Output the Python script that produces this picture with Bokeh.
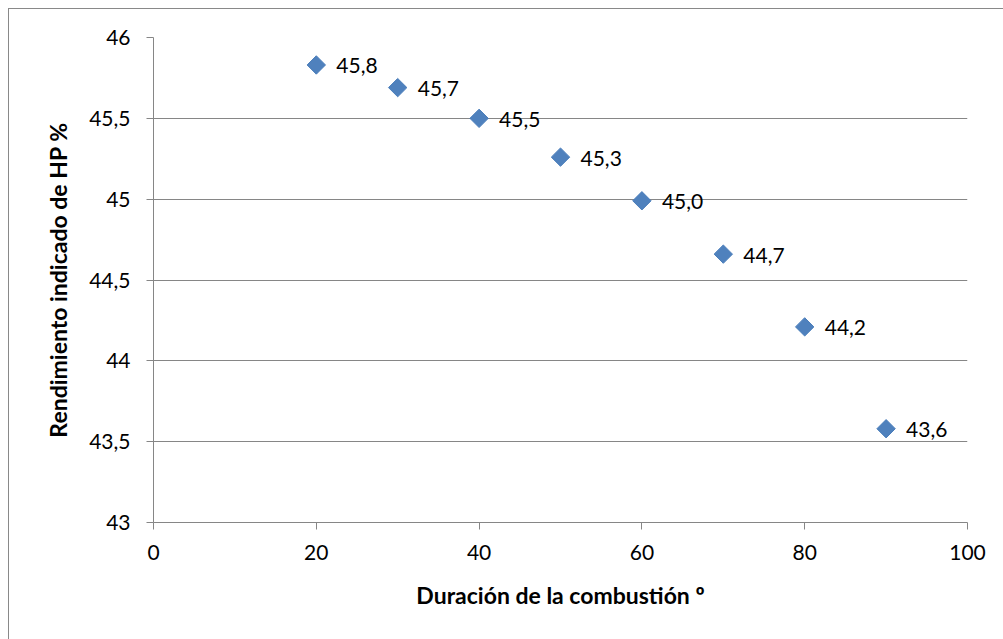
from bokeh.plotting import figure
from bokeh.models import ColumnDataSource, FixedTicker, CustomJSTickFormatter
from bokeh.embed import file_html
from bokeh.resources import INLINE
import math

duracion = [20, 30, 40, 50, 60, 70, 80, 90]
rendimiento = [45.83, 45.69, 45.50, 45.26, 44.99, 44.66, 44.21, 43.58]
y_ticks = [43, 43.5, 44, 44.5, 45, 45.5, 46]
x_ticks = [0, 20, 40, 60, 80, 100]

labels = [("%.1f" % v).replace(".", ",") for v in rendimiento]
src = ColumnDataSource(dict(x=duracion, y=rendimiento, lab=labels))

FONT = "Lato"
GRAY = "#868686"

p = figure(width=995, height=631, output_backend="svg", toolbar_location=None,
           x_range=(0, 100), y_range=(43, 46),
           min_border_left=144, min_border_right=37, min_border_top=28, min_border_bottom=118)
p.styles = {"margin": "8px 0 0 8px",
            "border-top": "1px solid #898989", "border-left": "1px solid #898989",
            "box-sizing": "border-box"}
p.outline_line_color = None
p.background_fill_color = "white"
p.border_fill_color = "white"

p.scatter("x", "y", source=src, marker="square", size=13, angle=math.pi / 4,
          fill_color="#4F81BD", line_color="#4A7EBB", line_width=1)
p.text("x", "y", text="lab", source=src, x_offset=20, y_offset=1,
       text_baseline="middle", text_align="left", text_font_size="21px",
       text_color="#000000", text_font={"value": FONT})

p.xaxis.ticker = FixedTicker(ticks=x_ticks)
p.yaxis.ticker = FixedTicker(ticks=y_ticks)
fmt = CustomJSTickFormatter(code="return tick.toString().replace('.', ',');")
p.yaxis.formatter = fmt
p.xaxis.formatter = fmt

for ax in (p.xaxis[0], p.yaxis[0]):
    ax.axis_line_color = GRAY
    ax.major_tick_line_color = GRAY
    ax.major_tick_in = 0
    ax.major_tick_out = 7
    ax.minor_tick_line_color = None
    ax.major_label_text_font = FONT
    ax.major_label_text_font_size = "21px"
    ax.major_label_text_color = "#000000"
    ax.axis_label_text_font = FONT
    ax.axis_label_text_font_size = "23px"
    ax.axis_label_text_font_style = "bold"
    ax.axis_label_text_color = "#000000"

p.xaxis.axis_label = "Duración de la combustión º"
p.yaxis.axis_label = "Rendimiento indicado de HP %"
p.xaxis.major_label_standoff = 15
p.xaxis.axis_label_standoff = 18
p.yaxis.major_label_standoff = 16
p.yaxis.axis_label_standoff = 14

p.xgrid.grid_line_color = None
p.ygrid.grid_line_color = GRAY
p.ygrid.grid_line_width = 1

open("out.html", "w").write(file_html(p, INLINE))
